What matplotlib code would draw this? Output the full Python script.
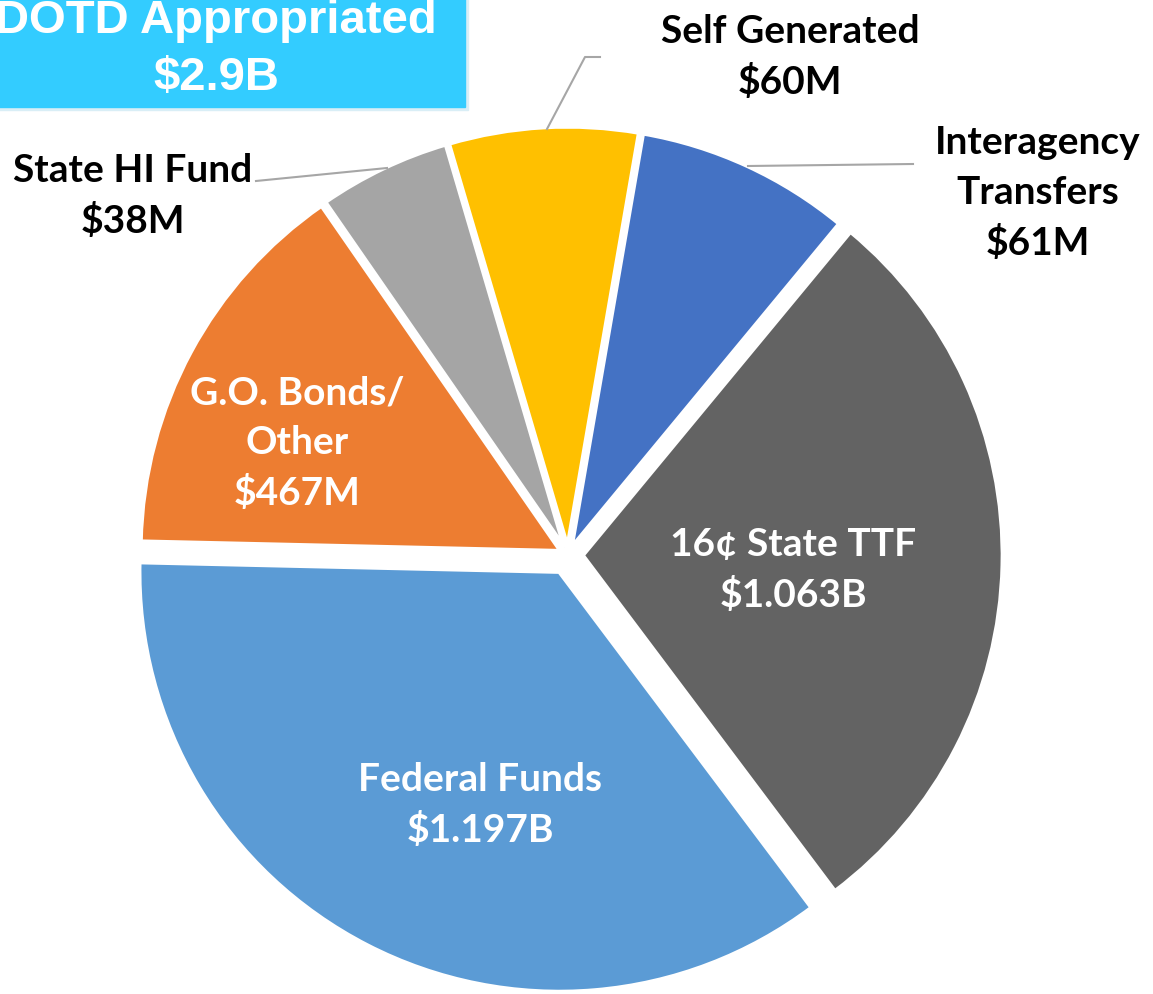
import matplotlib
matplotlib.use('Agg')
import matplotlib.pyplot as plt
from matplotlib.patches import Rectangle

# slice sizes as drawn (degrees of the circle), clockwise from the top
names = ['Interagency\nTransfers', '16¢ State TTF', 'Federal Funds',
         'G.O. Bonds/\nOther', 'State HI Fund', 'Self Generated']
amounts = ['$61M', '$1.063B', '$1.197B', '$467M', '$38M', '$60M']
sizes = [29.8, 103.5, 128.2, 54.0, 18.3, 26.2]
colors = ['#4472C4', '#636363', '#5B9BD5', '#ED7D31', '#A5A5A5', '#FFC000']
explode = [0.02, 0.035, 0.045, 0.02, 0.02, 0.02]

W, H = 1153, 995
cx, cy, R = 568, 556, 420

fig = plt.figure(figsize=(W / 100, H / 100), dpi=100)
ax = fig.add_axes([0, 0, 1, 1])
ax.pie(sizes, colors=colors, explode=explode, startangle=90 - 9.8,
       counterclock=False, radius=1,
       wedgeprops=dict(edgecolor='white', linewidth=3))
ax.set_xlim(-cx / R, (W - cx) / R)
ax.set_ylim((cy - H) / R, cy / R)
ax.set_aspect('auto')
ax.axis('off')

# overlay in pixel coords for labels and title box
ov = fig.add_axes([0, 0, 1, 1])
ov.set_xlim(0, W)
ov.set_ylim(H, 0)
ov.axis('off')

lab = dict(family='Lato', weight='bold', fontsize=28, ha='center', va='center',
           linespacing=1.5)
pos = {0: (1038, 193, 'black'), 1: (793, 570, 'white'), 2: (480, 805, 'white'),
       3: (297, 443, 'white'), 4: (133, 196, 'black'), 5: (790, 57, 'black')}
for i, (x, y, c) in pos.items():
    ov.text(x, y, names[i] + '\n' + amounts[i], color=c, **lab)

# leader lines
lc = '#A6A6A6'
ov.plot([547, 585, 600], [130, 58, 58], color=lc, lw=1.5)
ov.plot([387, 266, 256], [169, 181, 182], color=lc, lw=1.5)
ov.plot([748, 913], [167, 165], color=lc, lw=1.5)

# title box
ov.add_patch(Rectangle((-5, -5), 473, 116, color='#D9EEF6', zorder=3))
ov.add_patch(Rectangle((-5, -5), 470, 113, color='#33CCFF', zorder=4))
ov.text(216, 21, 'DOTD Appropriated', family='Liberation Sans', weight='bold',
        fontsize=34, color='white', ha='center', va='center', zorder=5)
ov.text(216, 78, '$2.9B', family='Liberation Sans', weight='bold',
        fontsize=34, color='white', ha='center', va='center', zorder=5)

fig.savefig('out.png', dpi=100)
